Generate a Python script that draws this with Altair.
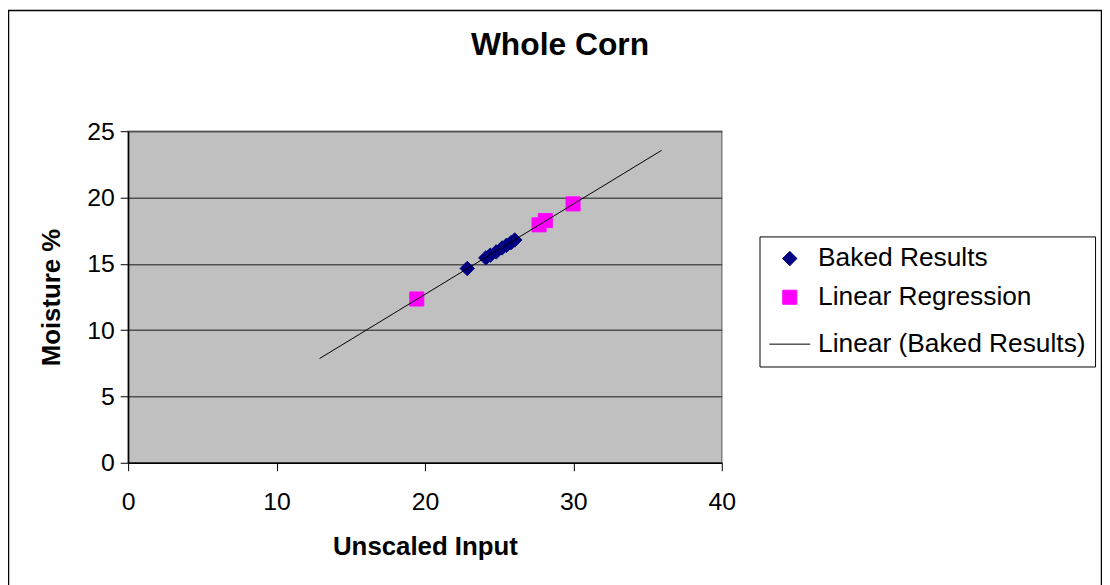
import altair as alt
import pandas as pd

series = ["Baked Results", "Linear Regression", "Linear (Baked Results)"]
colors = ["#000080", "#FF00FF", "#000000"]
shapes = ["diamond", "square", "stroke"]

baked_x = [22.85, 24.1, 24.4, 24.8, 25.2, 25.5, 25.8, 26.05]
baked_y = [14.65, 15.45, 15.65, 15.9, 16.2, 16.4, 16.6, 16.8]
reg_x = [19.45, 27.69, 28.11, 29.98]
reg_y = [12.35, 17.94, 18.26, 19.52]
trend_x = [12.9, 35.95]
trend_y = [7.86, 23.56]

x_ticks = [0, 10, 20, 30, 40]
y_ticks = [0, 5, 10, 15, 20, 25]

FONT = "Liberation Sans"

df_pts = pd.DataFrame({
    "x": baked_x + reg_x,
    "y": baked_y + reg_y,
    "series": [series[0]] * len(baked_x) + [series[1]] * len(reg_x),
})
df_line = pd.DataFrame({"x": trend_x, "y": trend_y, "series": [series[2]] * len(trend_x)})
df_frame = pd.DataFrame({"k": [0]})

legend = alt.Legend(
    title=None,
    orient="none",
    legendX=636,
    legendY=106,
    fillColor="white",
    strokeColor="black",
    padding=9,
    labelFont=FONT,
    labelFontSize=26.5,
    labelColor="black",
    labelOffset=7,
    labelLimit=500,
    symbolStrokeWidth=1,
)

cscale = alt.Scale(domain=series, range=colors)
color = alt.Color("series:N", scale=cscale, legend=legend)
stroke = alt.Stroke("series:N", scale=cscale, legend=legend)
shape = alt.Shape("series:N", scale=alt.Scale(domain=series, range=shapes), legend=legend)
size = alt.Size("series:O", sort=series,
                scale=alt.Scale(type="ordinal", domain=series, range=[210, 200, 1700]), legend=legend)

xenc = alt.X("x:Q", scale=alt.Scale(domain=[0, 40], nice=False, zero=False),
             axis=alt.Axis(values=x_ticks, title="Unscaled Input", grid=False, labelFlush=False))
yenc = alt.Y("y:Q", scale=alt.Scale(domain=[0, 25], nice=False, zero=False),
             axis=alt.Axis(values=y_ticks, title="Moisture %", grid=True, labelFlush=False))

frame = alt.Chart(df_frame).mark_rect(fill=None, stroke="black", strokeWidth=1.5, clip=False).encode(
    x=alt.value(-120.5), x2=alt.value(980.5), y=alt.value(-121.5), y2=alt.value(700)
)

points = alt.Chart(df_pts).mark_point(filled=True, opacity=1, strokeWidth=1).encode(
    x=xenc, y=yenc, color=color, stroke=stroke, shape=shape, size=size
)

line = alt.Chart(df_line).mark_line(strokeWidth=1).encode(
    x=xenc, y=yenc, stroke=stroke
)

chart = alt.layer(frame, points, line).properties(
    width=598,
    height=334,
    background="white",
    autosize=alt.AutoSizeParams(type="none"),
    padding={"left": 121, "top": 122, "right": 383, "bottom": 121},
    title=alt.TitleParams("Whole Corn", font=FONT, fontSize=32, fontWeight="bold",
                          color="black", anchor="middle", dx=136, offset=0, dy=77,
                          baseline="alphabetic"),
).configure_view(
    fill="#C0C0C0", stroke="#808080", strokeWidth=1.5
).configure_axis(
    labelFont=FONT, labelFontSize=25, labelColor="black",
    titleFont=FONT, titleFontSize=26, titleFontWeight="bold", titleColor="black",
    domainColor="black", domainWidth=1.5, tickColor="black", tickSize=8, tickWidth=1,
    gridColor="#505050", gridWidth=1.5,
).configure_axisX(
    labelPadding=19, titlePadding=19,
).configure_axisY(
    labelPadding=6, titlePadding=22,
).configure_legend(
    rowPadding=12,
)

chart.save("out.html", embed_options={"renderer": "svg", "actions": False})
